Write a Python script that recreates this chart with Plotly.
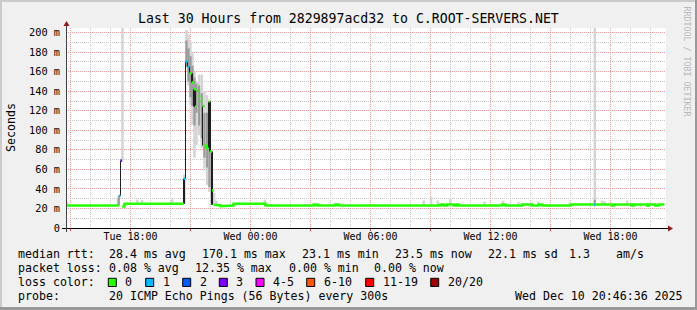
import plotly.graph_objects as go
from datetime import datetime

# ---------------- data ----------------
D1 = "2025-12-09 "
D2 = "2025-12-10 "

med_times = [
    D1 + "14:45", D1 + "17:25", D1 + "17:30", D1 + "17:35", D1 + "17:42",
    D1 + "20:40", D1 + "20:45", D1 + "20:51", D1 + "20:57", D1 + "21:04",
    D1 + "21:10", D1 + "21:14", D1 + "21:18", D1 + "21:24", D1 + "21:30",
    D1 + "21:36", D1 + "21:42", D1 + "21:48", D1 + "21:54", D1 + "21:58",
    D1 + "22:05", D1 + "22:10", D1 + "22:15", D1 + "22:30", D1 + "23:00",
    D1 + "23:09",
    D2 + "00:45", D2 + "03:10", D2 + "03:20", D2 + "04:15", D2 + "04:25",
    D2 + "09:30", D2 + "09:40", D2 + "09:50", D2 + "10:10", D2 + "10:20",
    D2 + "10:25", D2 + "12:35", D2 + "12:45", D2 + "13:35", D2 + "14:05",
    D2 + "14:25", D2 + "14:35", D2 + "16:00", D2 + "17:10", D2 + "17:15",
    D2 + "18:05", D2 + "18:10", D2 + "19:05", D2 + "19:10", D2 + "19:50",
    D2 + "19:55", D2 + "20:15", D2 + "20:25", D2 + "20:42",
]
med_values = [
    23.1, 33.0, 69.0, 22.0, 24.8,
    50.4, 170.3, 165.0, 158.5, 149.0,
    142.0, 124.4, 140.7, 134.6, 130.0,
    124.7, 84.5, 81.8, 129.5, 78.3,
    38.5, 23.8, 23.1, 22.5, 23.1,
    24.8,
    23.1, 24.1, 23.1, 24.1, 23.1,
    24.1, 23.1, 24.1, 23.1, 24.1,
    23.1, 24.1, 23.1, 24.1, 23.1,
    24.1, 23.1, 24.1, 23.5, 24.1,
    23.1, 24.1, 23.1, 24.1, 23.1,
    24.1, 23.1, 24.1, 24.1,
]
med_loss = [
    0, 1, 3, 0, 0,
    1, 1, 1, 0, 0,
    0, 0, 0, 0, 0,
    0, 0, 0, 0, 0,
    0, 0, 0, 0, 0,
    0,
    0, 0, 0, 0, 0,
    0, 0, 0, 0, 0,
    0, 0, 0, 0, 0,
    0, 0, 0, 1, 0,
    0, 0, 0, 0, 0,
    0, 0, 0, 0,
]

# light smoke (outer ping spread)
smoke_light_times = [
    D1 + "14:50", D1 + "17:22", D1 + "17:36", D1 + "18:20", D1 + "18:35",
    D1 + "20:05", D1 + "20:42", D1 + "20:48", D1 + "20:54", D1 + "21:00",
    D1 + "21:06", D1 + "21:12", D1 + "21:18", D1 + "21:26", D1 + "21:34",
    D1 + "21:42", D1 + "21:50", D1 + "21:57", D1 + "22:04", D1 + "22:11",
    D1 + "22:18",
    D2 + "00:43", D2 + "08:40", D2 + "09:02", D2 + "09:22", D2 + "10:00",
    D2 + "11:42", D2 + "12:38", D2 + "13:24", D2 + "14:23", D2 + "17:13",
    D2 + "17:35", D2 + "17:42", D2 + "18:50",
]
smoke_light_lo = [
    23.1, 23.0, 69.0, 24.8, 24.8,
    24.8, 24.8, 165.0, 146.0, 126.0,
    106.0, 72.0, 85.0, 95.0, 82.0,
    61.0, 44.0, 37.0, 27.0, 23.0,
    23.0,
    23.1, 23.1, 23.1, 23.1, 23.1,
    23.1, 23.1, 23.1, 23.1, 24.0,
    24.0, 24.0, 24.0,
]
smoke_light_hi = [
    27.0, 30.0, 205.0, 29.0, 28.5,
    29.5, 55.0, 203.0, 198.0, 191.0,
    180.0, 160.0, 150.0, 157.0, 157.0,
    140.0, 136.0, 100.0, 60.0, 36.0,
    28.0,
    29.0, 28.2, 31.7, 28.2, 29.6,
    27.0, 28.0, 26.5, 27.0, 205.0,
    28.2, 27.3, 28.2,
]

# medium smoke (inner ping spread)
smoke_mid_times = [
    D1 + "17:25", D1 + "20:48", D1 + "20:54", D1 + "21:00", D1 + "21:06",
    D1 + "21:12", D1 + "21:18", D1 + "21:26", D1 + "21:34", D1 + "21:42",
    D1 + "21:50", D1 + "21:57", D1 + "22:04", D2 + "17:13",
]
smoke_mid_lo = [
    23.0, 165.0, 150.0, 134.0, 125.0,
    105.0, 118.0, 105.0, 92.0, 72.0,
    62.0, 42.0, 26.0, 24.0,
]
smoke_mid_hi = [
    33.0, 192.0, 184.0, 176.0, 166.0,
    154.0, 148.0, 146.0, 138.0, 118.0,
    118.0, 86.0, 48.0, 29.0,
]

# dark smoke core (where the pings jump between medians)
smoke_dark_times = [
    D1 + "17:30", D1 + "20:40", D1 + "20:45", D1 + "20:51", D1 + "20:57",
    D1 + "21:04", D1 + "21:10", D1 + "21:14", D1 + "21:36", D1 + "21:54",
    D1 + "21:58", D1 + "22:05",
]
smoke_dark_lo = [
    33.0, 24.8, 50.4, 165.0, 158.5,
    149.0, 124.4, 124.4, 84.5, 81.8,
    78.3, 23.8,
]
smoke_dark_hi = [
    69.0, 50.4, 170.3, 170.3, 165.0,
    158.5, 142.0, 140.7, 124.7, 129.5,
    129.5, 78.3,
]

y_tick_values = [0, 20, 40, 60, 80, 100, 120, 140, 160, 180, 200]
y_tick_labels = ["0", "20 m", "40 m", "60 m", "80 m", "100 m", "120 m",
                 "140 m", "160 m", "180 m", "200 m"]
x_tick_values = [D1 + "15:00", D1 + "18:00", D1 + "21:00", D2 + "00:00",
                 D2 + "03:00", D2 + "06:00", D2 + "09:00", D2 + "12:00",
                 D2 + "15:00", D2 + "18:00"]
x_tick_labels = ["", "Tue 18:00", "", "Wed 00:00", "", "Wed 06:00", "",
                 "Wed 12:00", "", "Wed 18:00"]

loss_colors = ["#26ff00", "#00b8ff", "#0059ff", "#7e00ff", "#ff00ff",
               "#ff5500", "#ff0000", "#a10000"]
loss_labels = ["0", "1", "2", "3", "4-5", "6-10", "11-19", "20/20"]

title_text = "Last 30 Hours from 2829897acd32 to C.ROOT-SERVERS.NET"
t_start = "2025-12-09 14:46:36"
t_end = "2025-12-10 20:46:36"

# ---------------- layout geometry ----------------
W, H = 697, 310
L, T, PW, PH = 66, 28, 600, 200
MONO = "DejaVu Sans Mono"


def xp(px):
    return (px - L) / PW


def yp(py):
    return (T + PH - py) / PH


def parse(s):
    return datetime.strptime(s, "%Y-%m-%d %H:%M")


fig = go.Figure()


def add_smoke(times, lo, hi, color, minutes):
    fig.add_trace(go.Bar(
        x=times, y=[h - l for h, l in zip(hi, lo)], base=lo,
        width=minutes * 60000, marker=dict(color=color, line=dict(width=0)),
        hoverinfo="skip", showlegend=False))


add_smoke(smoke_light_times, smoke_light_lo, smoke_light_hi, "#d4d4d4", 7.5)
add_smoke(smoke_mid_times, smoke_mid_lo, smoke_mid_hi, "#9a9a9a", 6.5)
add_smoke(smoke_dark_times, smoke_dark_lo, smoke_dark_hi, "#1e1e1e", 2.6)

# median line, coloured by loss level
for lvl in sorted(set(med_loss)):
    xs, ys = [], []
    prev_end, prev_v = None, None
    for i in range(len(med_times) - 1):
        if med_loss[i] != lvl:
            continue
        t0, t1, v = parse(med_times[i]), parse(med_times[i + 1]), med_values[i]
        connected = xs and prev_end == t0 and abs(prev_v - v) < 4
        if xs and not connected:
            xs.append(None)
            ys.append(None)
        xs += [t0, t1]
        ys += [v, v]
        prev_end, prev_v = t1, v
    fig.add_trace(go.Scatter(
        x=xs, y=ys, mode="lines", line=dict(color=loss_colors[lvl], width=2.6),
        connectgaps=False, hoverinfo="skip", showlegend=False))

MAJOR = "#f4a0a0"
MINOR = "#c8c8c8"
fig.update_layout(
    width=W, height=H,
    margin=dict(l=L, r=W - L - PW, t=T, b=H - T - PH, pad=0),
    paper_bgcolor="#f0f0f0", plot_bgcolor="#ffffff",
    barmode="overlay", showlegend=False,
    font=dict(family=MONO, color="#000000", size=10),
    xaxis=dict(
        type="date", range=[t_start, t_end],
        tickmode="array", tickvals=x_tick_values, ticktext=x_tick_labels,
        showgrid=True, gridcolor=MAJOR, griddash="1px,1px", gridwidth=1,
        ticks="outside", ticklen=2, tickcolor="#e05050", ticklabelstandoff=-3,
        tickfont=dict(family=MONO, size=10, color="#000000"),
        minor=dict(dtick=3600000, tick0="2025-12-09 00:00", showgrid=True,
                   gridcolor=MINOR, griddash="1px,1px", gridwidth=1),
        showline=False, zeroline=False, fixedrange=True,
    ),
    yaxis=dict(
        range=[0, 204.8],
        tickmode="array", tickvals=y_tick_values, ticktext=y_tick_labels,
        showgrid=True, gridcolor=MAJOR, griddash="1px,1px", gridwidth=1,
        ticks="", ticklabelstandoff=5,
        tickfont=dict(family=MONO, size=10.3, color="#000000"),
        minor=dict(dtick=10, showgrid=True, gridcolor=MINOR,
                   griddash="1px,1px", gridwidth=1),
        showline=False, zeroline=False, fixedrange=True,
    ),
)

shapes = []
# frame shading
shapes.append(dict(type="rect", xref="paper", yref="paper",
                   x0=xp(0), x1=xp(W), y0=yp(0), y1=yp(2),
                   fillcolor="#cbcbcb", line=dict(width=0), layer="above"))
shapes.append(dict(type="rect", xref="paper", yref="paper",
                   x0=xp(0), x1=xp(2), y0=yp(0), y1=yp(H),
                   fillcolor="#cbcbcb", line=dict(width=0), layer="above"))
shapes.append(dict(type="rect", xref="paper", yref="paper",
                   x0=xp(W - 2), x1=xp(W), y0=yp(0), y1=yp(H),
                   fillcolor="#999999", line=dict(width=0), layer="above"))
shapes.append(dict(type="rect", xref="paper", yref="paper",
                   x0=xp(0), x1=xp(W), y0=yp(H - 3), y1=yp(H),
                   fillcolor="#999999", line=dict(width=0), layer="above"))
# axes with arrows
ax_y = T + PH + 0.5
shapes.append(dict(type="line", xref="paper", yref="paper",
                   x0=xp(62), x1=xp(669), y0=yp(ax_y), y1=yp(ax_y),
                   line=dict(color="#000000", width=1), layer="above"))
shapes.append(dict(type="line", xref="paper", yref="paper",
                   x0=xp(L + 0.5), x1=xp(L + 0.5), y0=yp(232), y1=yp(25),
                   line=dict(color="#404040", width=1), layer="above"))
shapes.append(dict(type="path", xref="paper", yref="paper",
                   path=f"M {xp(668)},{yp(ax_y - 3)} L {xp(673)},{yp(ax_y)} L {xp(668)},{yp(ax_y + 3)} Z",
                   fillcolor="#8b1a1a", line=dict(width=0), layer="above"))
shapes.append(dict(type="path", xref="paper", yref="paper",
                   path=f"M {xp(L - 2.5)},{yp(26)} L {xp(L + 0.5)},{yp(21)} L {xp(L + 3.5)},{yp(26)} Z",
                   fillcolor="#8b1a1a", line=dict(width=0), layer="above"))

annotations = []
annotations.append(dict(text=title_text, xref="paper", yref="paper",
                        x=xp(348), y=yp(18.5), xanchor="center", yanchor="middle",
                        showarrow=False, font=dict(family=MONO, size=13.2, color="#000000")))
annotations.append(dict(text="Seconds", xref="paper", yref="paper",
                        x=xp(11), y=yp(128), xanchor="center", yanchor="middle",
                        textangle=-90, showarrow=False,
                        font=dict(family=MONO, size=11.6, color="#000000")))
annotations.append(dict(text="RRDTOOL / TOBI OETIKER", xref="paper", yref="paper",
                        x=xp(686.5), y=yp(61), xanchor="center", yanchor="middle",
                        textangle=90, showarrow=False,
                        font=dict(family=MONO, size=8.3, color="#b8b8b8")))

legend_rows = [
    (254.3, [("median rtt:", 16), ("28.4 ms avg", 107.3), ("170.1 ms max", 200),
             ("23.1 ms min", 300), ("23.5 ms now", 393.3), ("22.1 ms sd", 486),
             ("1.3", 566.7), ("am/s", 614)]),
    (268.3, [("packet loss:", 16), ("0.08 % avg", 107.3), ("12.35 % max", 193.3),
             ("0.00 % min", 286.7), ("0.00 % now", 372.3)]),
    (282.3, [("loss color:", 16)]),
    (296.3, [("probe:", 16), ("20 ICMP Echo Pings (56 Bytes) every 300s", 107.3),
             ("Wed Dec 10 20:46:36 2025", 512.7)]),
]
for ypix, items in legend_rows:
    for txt, xpix in items:
        annotations.append(dict(text=txt, xref="paper", yref="paper",
                                x=xp(xpix), y=yp(ypix), xanchor="left", yanchor="middle",
                                showarrow=False,
                                font=dict(family=MONO, size=11.6, color="#000000")))

box_x = [108.3, 145.7, 182.7, 219.3, 256.0, 306.7, 365.7, 430.7]
for bx, col, lab in zip(box_x, loss_colors, loss_labels):
    shapes.append(dict(type="rect", xref="paper", yref="paper",
                       x0=xp(bx), x1=xp(bx + 8), y0=yp(278.3), y1=yp(286.5),
                       fillcolor=col, line=dict(color="#000000", width=1), layer="above"))
    annotations.append(dict(text=lab, xref="paper", yref="paper",
                            x=xp(bx + 15), y=yp(282.3), xanchor="left", yanchor="middle",
                            showarrow=False,
                            font=dict(family=MONO, size=11.6, color="#000000")))

fig.update_layout(shapes=shapes, annotations=annotations)
fig.write_html("out.html")
